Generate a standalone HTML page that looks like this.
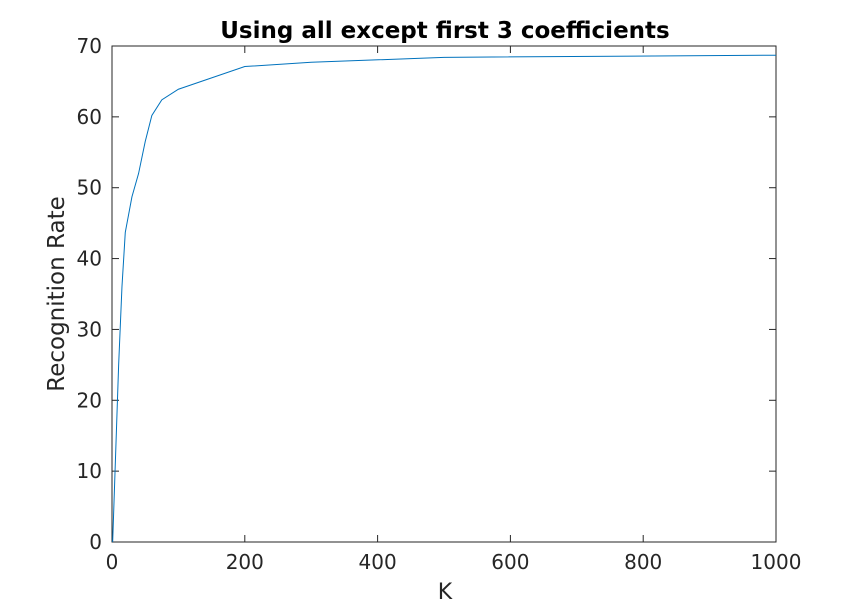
<!DOCTYPE html>
<html><head><meta charset="utf-8"><style>
body{margin:0;background:#fff}
svg text{font-family:"DejaVu Sans","Liberation Sans",sans-serif;fill:#262626}
</style></head><body>
<svg width="859" height="609" id="c">
<rect width="859" height="609" fill="#fff"/>
<text x="445" y="38" text-anchor="middle" font-size="23" font-weight="bold" style="fill:#000">Using all except first 3 coefficients</text>
<text x="445" y="599" text-anchor="middle" font-size="22">K</text>
<text transform="translate(64,294) rotate(-90)" text-anchor="middle" font-size="23">Recognition Rate</text>
<g id="ax"></g>
</svg>
<script>
const kValues=[1,10,15,20,30,40,50,60,75,100,200,300,500,1000];
const rateValues=[0,25,36,43.7,48.7,52,56.5,60.2,62.4,63.9,67.1,67.7,68.4,68.7];
const xTicks=[0,200,400,600,800,1000];
const yTicks=[0,10,20,30,40,50,60,70];
const L=112,R=776,T=46,B=542;
const sx=v=>L+(v-0)/1000*(R-L);
const sy=v=>B-(v-0)/70*(B-T);
const NS='http://www.w3.org/2000/svg';
const ax=document.getElementById('ax');
function mk(t,a){const e=document.createElementNS(NS,t);for(const k in a)e.setAttribute(k,a[k]);ax.appendChild(e);return e;}
const fr=mk('rect',{x:L,y:T,width:R-L,height:B-T,fill:'none',stroke:'#262626','stroke-width':1});


xTicks.forEach(v=>{const x=sx(v);
const t1=mk('line',{x1:x,x2:x,y1:B,y2:B-7,stroke:'#262626'});


const t2=mk('line',{x1:x,x2:x,y1:T,y2:T+7,stroke:'#262626'});


const tx=mk('text',{x:x,y:B+27,'text-anchor':'middle','font-size':20});tx.textContent=v;


});
yTicks.forEach(v=>{const y=sy(v);
const t1=mk('line',{x1:L,x2:L+7,y1:y,y2:y,stroke:'#262626'});


const t2=mk('line',{x1:R,x2:R-7,y1:y,y2:y,stroke:'#262626'});


const tx=mk('text',{x:L-10,y:y+7,'text-anchor':'end','font-size':20});tx.textContent=v;


});
const pl=mk('polyline',{points:kValues.map((k,i)=>sx(k)+','+sy(rateValues[i])).join(' '),fill:'none',stroke:'#0072BD','stroke-width':1});


</script>
</body></html>
